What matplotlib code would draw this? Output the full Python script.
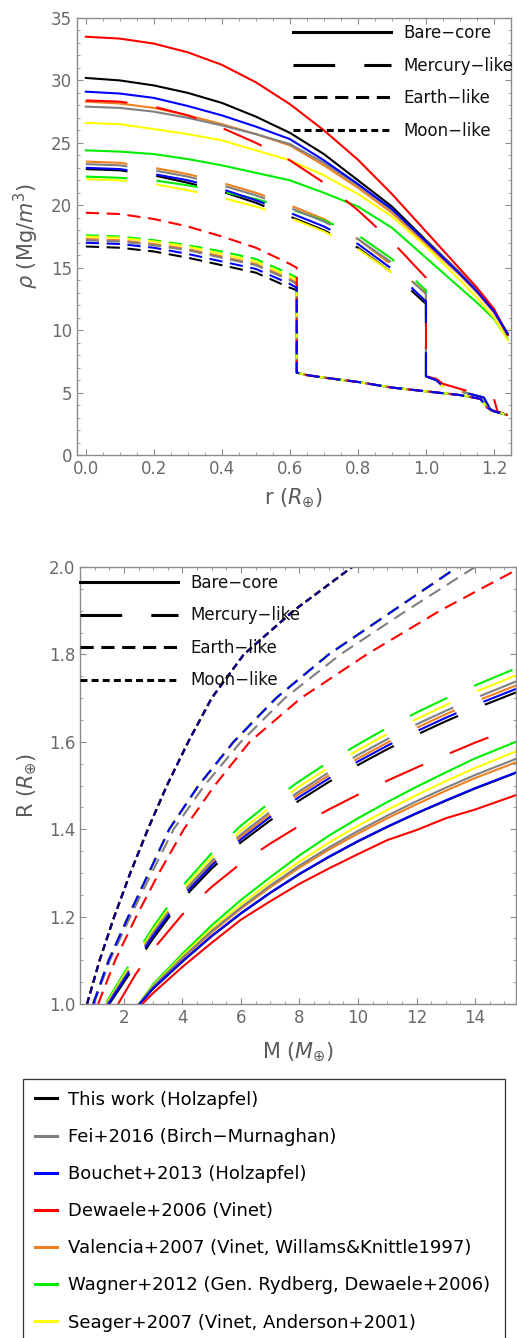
import matplotlib
matplotlib.use("Agg")
import matplotlib.pyplot as plt
from matplotlib.lines import Line2D
from matplotlib.ticker import MultipleLocator, FormatStrFormatter

plt.rcParams['font.family'] = ['DejaVu Sans']
plt.rcParams['mathtext.fontset'] = 'dejavusans'
plt.rcParams['lines.scale_dashes'] = False

# ---------------- categories ----------------
eos_keys = ["black", "gray", "blue", "red", "orange", "green", "yellow"]
eos_labels = ["This work (Holzapfel)",
              "Fei+2016 (Birch−Murnaghan)",
              "Bouchet+2013 (Holzapfel)",
              "Dewaele+2006 (Vinet)",
              "Valencia+2007 (Vinet, Willams&Knittle1997)",
              "Wagner+2012 (Gen. Rydberg, Dewaele+2006)",
              "Seager+2007 (Vinet, Anderson+2001)"]
eos_colors = {"black": "#000000", "gray": "#808080", "blue": "#0000ff",
              "red": "#ff0000", "orange": "#f08020", "green": "#00ee00",
              "yellow": "#ffff00"}
draw_order = ["black", "orange", "green", "yellow", "gray", "red", "blue"]

type_labels = ["Bare−core", "Mercury−like", "Earth−like", "Moon−like"]
type_styles = ["-", (0, (30, 21)), (0, (9.5, 5.5)), (0, (5, 3))]

# ---------------- top panel: density profiles ----------------
r_bare = [0.0, 0.1, 0.2, 0.3, 0.4, 0.5, 0.6, 0.7, 0.8, 0.9, 1.0, 1.1, 1.15, 1.2, 1.24]
rho_bare = {
    "black":  [30.2, 30.0, 29.6, 29.0, 28.2, 27.1, 25.8, 24.1, 22.0, 19.9, 17.2, 14.6, 13.2, 11.6, 9.7],
    "gray":   [27.9, 27.8, 27.5, 27.0, 26.4, 25.7, 24.9, 23.4, 21.6, 19.6, 17.1, 14.6, 13.2, 11.5, 9.8],
    "blue":   [29.1, 28.95, 28.6, 27.95, 27.2, 26.3, 25.3, 23.6, 21.7, 19.7, 17.1, 14.5, 13.1, 11.5, 9.7],
    "red":    [33.5, 33.35, 32.95, 32.25, 31.25, 29.85, 28.1, 26.0, 23.65, 20.9, 17.9, 14.9, 13.4, 11.7, 9.6],
    "orange": [28.3, 28.15, 27.8, 27.2, 26.5, 25.7, 24.8, 23.2, 21.4, 19.4, 16.9, 14.4, 13.0, 11.4, 9.6],
    "green":  [24.4, 24.3, 24.1, 23.7, 23.2, 22.6, 22.0, 21.0, 19.9, 18.2, 15.8, 13.4, 12.2, 10.9, 9.3],
    "yellow": [26.6, 26.5, 26.1, 25.7, 25.2, 24.4, 23.6, 22.4, 20.9, 19.1, 16.7, 14.0, 12.6, 11.0, 9.2],
}

r_merc_core = [0.0, 0.1, 0.2, 0.3, 0.4, 0.5, 0.6, 0.7, 0.8, 0.9, 1.0]
rho_merc_core = {
    "black":  [22.9, 22.8, 22.4, 21.8, 21.1, 20.2, 19.1, 18.0, 16.6, 14.6, 12.1],
    "gray":   [23.3, 23.2, 22.8, 22.3, 21.6, 20.8, 19.8, 18.7, 17.3, 15.4, 12.9],
    "blue":   [23.0, 22.9, 22.5, 22.0, 21.3, 20.4, 19.4, 18.3, 16.9, 14.9, 12.3],
    "red":    [28.4, 28.3, 27.9, 27.2, 26.2, 25.0, 23.6, 21.8, 19.6, 17.1, 14.2],
    "orange": [23.5, 23.4, 23.0, 22.5, 21.8, 21.0, 20.0, 18.9, 17.3, 15.2, 13.0],
    "green":  [22.3, 22.2, 22.0, 21.6, 21.1, 20.5, 19.7, 18.8, 17.6, 15.7, 13.2],
    "yellow": [22.1, 22.0, 21.7, 21.2, 20.6, 19.9, 19.0, 17.9, 16.5, 14.6, 12.4],
}
r_merc_mantle = [1.0, 1.03, 1.05, 1.1, 1.17, 1.19, 1.24]
rho_merc_mantle = [6.3, 6.0, 5.5, 5.1, 4.6, 3.6, 3.2]
r_merc_mantle_red = [1.0, 1.03, 1.05, 1.1, 1.2, 1.21, 1.24]
rho_merc_mantle_red = [6.3, 6.1, 5.7, 5.3, 4.5, 3.5, 3.2]

r_earth_core = [0.0, 0.1, 0.2, 0.3, 0.4, 0.5, 0.6, 0.62]
rho_earth_core = {
    "black":  [16.7, 16.6, 16.3, 15.8, 15.2, 14.6, 13.4, 13.2],
    "gray":   [17.2, 17.1, 16.8, 16.4, 15.8, 15.2, 14.0, 13.7],
    "blue":   [17.0, 16.9, 16.6, 16.1, 15.5, 14.9, 13.7, 13.4],
    "red":    [19.4, 19.3, 18.9, 18.3, 17.5, 16.6, 15.3, 15.0],
    "orange": [17.3, 17.2, 16.9, 16.5, 15.9, 15.3, 14.1, 13.8],
    "green":  [17.6, 17.5, 17.2, 16.8, 16.3, 15.7, 14.5, 14.2],
    "yellow": [17.5, 17.4, 17.1, 16.7, 16.1, 15.5, 14.3, 14.0],
}
r_earth_mantle = [0.62, 0.65, 0.7, 0.8, 0.9, 1.0, 1.1, 1.16, 1.18, 1.2, 1.24]
rho_earth_mantle = [6.6, 6.4, 6.2, 5.85, 5.4, 5.1, 4.8, 4.5, 3.8, 3.5, 3.2]

# ---------------- bottom panel: mass-radius relations ----------------
R_moon = [1.0, 1.1, 1.2, 1.3, 1.4, 1.5, 1.6, 1.7, 1.8, 1.9, 2.0]
M_moon = [0.74, 1.17, 1.67, 2.22, 2.82, 3.47, 4.2, 5.0, 6.1, 7.8, 9.8]

R_earth = [1.0, 1.1, 1.2, 1.3, 1.4, 1.5, 1.6, 1.7, 1.8, 1.9, 2.0]
M_earth = {
    "black":  [0.95, 1.48, 2.15, 2.85, 3.55, 4.55, 5.75, 7.2, 9.0, 11.2, 13.4],
    "gray":   [0.97, 1.52, 2.22, 2.95, 3.7, 4.75, 6.0, 7.5, 9.4, 11.65, 14.0],
    "blue":   [0.95, 1.48, 2.15, 2.85, 3.55, 4.55, 5.75, 7.2, 9.0, 11.2, 13.4],
    "red":    [1.12, 1.7, 2.42, 3.2, 4.05, 5.1, 6.3, 8.05, 10.3, 12.8, 15.6],
    "orange": [0.95, 1.48, 2.15, 2.85, 3.55, 4.55, 5.75, 7.2, 9.0, 11.2, 13.4],
    "green":  [0.95, 1.48, 2.15, 2.85, 3.55, 4.55, 5.75, 7.2, 9.0, 11.2, 13.4],
    "yellow": [0.95, 1.48, 2.15, 2.85, 3.55, 4.55, 5.75, 7.2, 9.0, 11.2, 13.4],
}

M_merc = [1.4, 2.0, 3.0, 4.0, 5.0, 6.0, 7.0, 8.0, 9.0, 10.0, 11.0, 12.0, 13.0, 14.0, 15.4]
M_merc_red = [1.8, 2.4, 3.0, 4.0, 5.0, 6.0, 7.0, 8.0, 9.0, 10.0, 11.0, 12.0, 13.0, 14.0, 15.4]
R_merc = {
    "black":  [0.99, 1.05, 1.15, 1.24, 1.31, 1.37, 1.42, 1.466, 1.508, 1.547, 1.583, 1.616, 1.647, 1.676, 1.713],
    "gray":   [0.997, 1.06, 1.163, 1.254, 1.327, 1.388, 1.44, 1.487, 1.53, 1.57, 1.606, 1.64, 1.671, 1.70, 1.738],
    "blue":   [0.993, 1.055, 1.156, 1.246, 1.317, 1.377, 1.428, 1.474, 1.516, 1.555, 1.591, 1.624, 1.655, 1.684, 1.721],
    "red":    [1.0, 1.068, 1.125, 1.205, 1.268, 1.322, 1.367, 1.408, 1.445, 1.479, 1.511, 1.541, 1.57, 1.598, 1.634],
    "orange": [0.995, 1.058, 1.16, 1.25, 1.322, 1.383, 1.434, 1.481, 1.523, 1.562, 1.598, 1.632, 1.663, 1.692, 1.729],
    "green":  [1.004, 1.07, 1.176, 1.27, 1.345, 1.408, 1.462, 1.51, 1.554, 1.594, 1.632, 1.667, 1.699, 1.729, 1.768],
    "yellow": [1.0, 1.065, 1.169, 1.261, 1.335, 1.397, 1.45, 1.498, 1.541, 1.581, 1.618, 1.652, 1.684, 1.714, 1.752],
}

M_bare = [2.4, 3.0, 4.0, 5.0, 6.0, 7.0, 8.0, 9.0, 10.0, 11.0, 12.0, 13.0, 14.0, 15.4]
R_bare = {
    "black":  [0.99, 1.035, 1.097, 1.155, 1.207, 1.254, 1.297, 1.336, 1.372, 1.405, 1.436, 1.465, 1.493, 1.529],
    "gray":   [0.99, 1.04, 1.106, 1.167, 1.221, 1.271, 1.317, 1.358, 1.396, 1.431, 1.464, 1.495, 1.524, 1.561],
    "blue":   [0.99, 1.036, 1.098, 1.156, 1.208, 1.255, 1.298, 1.337, 1.373, 1.406, 1.437, 1.466, 1.494, 1.53],
    "red":    [0.985, 1.025, 1.085, 1.14, 1.193, 1.235, 1.275, 1.31, 1.343, 1.375, 1.398, 1.425, 1.445, 1.478],
    "orange": [0.99, 1.039, 1.104, 1.164, 1.218, 1.267, 1.312, 1.353, 1.39, 1.425, 1.457, 1.488, 1.517, 1.553],
    "green":  [0.99, 1.045, 1.115, 1.18, 1.238, 1.29, 1.34, 1.385, 1.425, 1.462, 1.497, 1.53, 1.562, 1.60],
    "yellow": [0.99, 1.042, 1.11, 1.172, 1.228, 1.279, 1.326, 1.369, 1.408, 1.444, 1.478, 1.51, 1.54, 1.578],
}

FRAME = "#8c8c8c"
TICKLAB = "#6a6a6a"
LABEL = "#5a5a5a"
LW = 1.5

fig = plt.figure(figsize=(5.17, 13.38), dpi=100)
ax1 = fig.add_axes([77 / 517, 1 - 455 / 1338, 434 / 517, 437 / 1338])
ax2 = fig.add_axes([80 / 517, 1 - 1004 / 1338, 436 / 517, 437 / 1338])


def style(ax):
    for s in ax.spines.values():
        s.set_color(FRAME)
        s.set_linewidth(1.0)
    ax.tick_params(which="both", direction="in", top=True, right=True,
                   color=FRAME, labelcolor=TICKLAB, labelsize=12)
    ax.tick_params(which="major", length=4, width=0.8)
    ax.tick_params(which="minor", length=2.2, width=0.6)


# ---- top panel ----
for key in draw_order:
    ax1.plot(r_bare, rho_bare[key], color=eos_colors[key], lw=LW, ls=type_styles[0])
for key in draw_order:
    if key == "red":
        rm, pm = r_merc_mantle_red, rho_merc_mantle_red
    else:
        rm, pm = r_merc_mantle, rho_merc_mantle
    ax1.plot(r_merc_core + rm, rho_merc_core[key] + pm,
             color=eos_colors[key], lw=LW, ls=type_styles[1])
for key in draw_order:
    ax1.plot(r_earth_core + r_earth_mantle, rho_earth_core[key] + rho_earth_mantle,
             color=eos_colors[key], lw=LW, ls=type_styles[2])

ax1.set_xlim(-0.026, 1.25)
ax1.set_ylim(0, 35)
ax1.xaxis.set_major_locator(MultipleLocator(0.2))
ax1.xaxis.set_minor_locator(MultipleLocator(0.05))
ax1.yaxis.set_major_locator(MultipleLocator(5))
ax1.yaxis.set_minor_locator(MultipleLocator(1))
ax1.xaxis.set_major_formatter(FormatStrFormatter("%.1f"))
style(ax1)
ax1.set_xlabel(r"r ($R_{\oplus}$)", fontsize=15, color=LABEL)
ax1.set_ylabel(r"$\rho$ (Mg/$m^3$)", fontsize=15, color=LABEL)
ax1.xaxis.set_label_coords(0.5, -0.072)
ax1.yaxis.set_label_coords(-0.082, 0.5)

type_handles = [Line2D([], [], color="black", lw=2.2, ls=s) for s in type_styles]
ax1.legend(type_handles, type_labels, loc="upper left", bbox_to_anchor=(0.498, 0.986),
           frameon=False, fontsize=12, handlelength=5.9, handletextpad=0.7,
           labelspacing=0.87, borderpad=0, borderaxespad=0, labelcolor="#111111")

# ---- bottom panel ----
for key in draw_order:
    ax2.plot(M_bare, R_bare[key], color=eos_colors[key], lw=LW, ls=type_styles[0])
for key in draw_order:
    mm = M_merc_red if key == "red" else M_merc
    ax2.plot(mm, R_merc[key], color=eos_colors[key], lw=LW, ls=type_styles[1])
for key in draw_order:
    ax2.plot(M_earth[key], R_earth, color=eos_colors[key], lw=LW, ls=type_styles[2])
for key in draw_order:
    ax2.plot(M_moon, R_moon, color=eos_colors[key], lw=LW, ls=type_styles[3])
ax2.plot(M_moon, R_moon, color="black", lw=LW, ls=type_styles[3], alpha=0.45)

ax2.set_xlim(0.5, 15.4)
ax2.set_ylim(1.0, 2.0)
ax2.xaxis.set_major_locator(MultipleLocator(2))
ax2.xaxis.set_minor_locator(MultipleLocator(0.5))
ax2.yaxis.set_major_locator(MultipleLocator(0.2))
ax2.yaxis.set_minor_locator(MultipleLocator(0.05))
ax2.yaxis.set_major_formatter(FormatStrFormatter("%.1f"))
style(ax2)
ax2.set_xlabel(r"M ($M_{\oplus}$)", fontsize=15, color=LABEL)
ax2.set_ylabel(r"R ($R_{\oplus}$)", fontsize=15, color=LABEL)
ax2.xaxis.set_label_coords(0.5, -0.085)
ax2.yaxis.set_label_coords(-0.095, 0.5)

type_handles2 = [Line2D([], [], color="black", lw=2.2, ls=s) for s in type_styles]
ax2.legend(type_handles2, type_labels, loc="upper left", bbox_to_anchor=(0.0, 0.984),
           frameon=False, fontsize=12, handlelength=5.9, handletextpad=0.7,
           labelspacing=0.87, borderpad=0, borderaxespad=0, labelcolor="#111111")

# ---- EOS legend box ----
eos_handles = [Line2D([], [], color=eos_colors[k], lw=2.2) for k in eos_keys]
leg = fig.legend(eos_handles, eos_labels, loc="upper left",
                 bbox_to_anchor=(23 / 517, 0.0, 482 / 517, 1 - 1079 / 1338),
                 mode="expand", frameon=True, fancybox=False, fontsize=13,
                 handlelength=1.25, handletextpad=0.6, labelspacing=1.06,
                 borderpad=0.65, borderaxespad=0, framealpha=1)
leg.get_frame().set_edgecolor("#333333")
leg.get_frame().set_linewidth(0.9)

fig.savefig("out.png", dpi=100)
